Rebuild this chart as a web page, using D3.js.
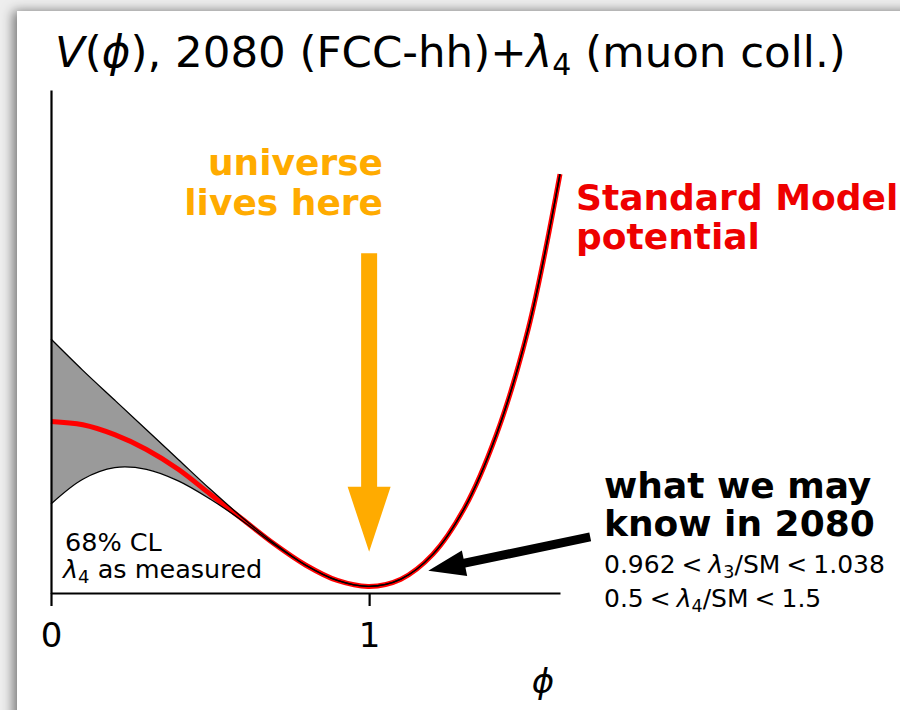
<!DOCTYPE html>
<html>
<head>
<meta charset="utf-8">
<script src="https://cdn.jsdelivr.net/npm/d3@7"></script>
<style>
  body { margin: 0; background: #ffffff; }
  svg { display: block; font-family: "DejaVu Sans", sans-serif; }
</style>
</head>
<body>
<svg id="chart" width="900" height="710"></svg>
<script>
// Field value phi (in units of the vev)
const phi  = [0.0, 0.1, 0.2, 0.3, 0.4, 0.5, 0.6, 0.7, 0.8, 0.9, 1.0, 1.1, 1.2, 1.3, 1.4, 1.5, 1.6];
// Standard Model potential V(phi), normalised so that V(0) = 1 and V(1) = 0
const vSM  = [1.00, 0.98, 0.92, 0.83, 0.71, 0.56, 0.41, 0.26, 0.13, 0.036, 0.0, 0.044, 0.194, 0.476, 0.92, 1.56, 2.50];
// 68% CL envelope with lambda_4 as measured
const vLow  = [0.50, 0.65, 0.72, 0.71, 0.64, 0.53, 0.40, 0.256, 0.129, 0.036, 0.0, 0.044, 0.194, 0.476, 0.92, 1.56, 2.50];
const vHigh = [1.50, 1.31, 1.13, 0.95, 0.77, 0.59, 0.42, 0.264, 0.130, 0.036, 0.0, 0.044, 0.194, 0.476, 0.92, 1.56, 2.50];
// Axis ticks
const xTicks = [0, 1];
const xTickLabels = ["0", "1"];

const svg = d3.select("#chart");

// Slide card with a soft shadow
const defs = svg.append("defs");
const f = defs.append("filter").attr("id", "shadow")
  .attr("x", "-10%").attr("y", "-10%").attr("width", "130%").attr("height", "130%");
f.append("feDropShadow").attr("dx", -4).attr("dy", 0).attr("stdDeviation", 6)
  .attr("flood-color", "#000").attr("flood-opacity", 0.5);
svg.append("rect").attr("width", 900).attr("height", 710).attr("fill", "#eeeeee");
svg.append("rect").attr("x", 17).attr("y", 11).attr("width", 920).attr("height", 740)
  .attr("fill", "#ffffff").attr("filter", "url(#shadow)");

const x = d3.scaleLinear().domain([0, 1.6]).range([51, 560]);
const y = d3.scaleLinear().domain([-0.04, 3.01]).range([593, 90]);

const rows = phi.map((p, i) => ({ p, sm: vSM[i], lo: vLow[i], hi: vHigh[i] }));
const curve = d3.curveCatmullRom.alpha(0.5);

// Uncertainty band
svg.append("path").datum(rows)
  .attr("d", d3.area().x(d => x(d.p)).y0(d => y(d.lo)).y1(d => y(d.hi)).curve(curve))
  .attr("fill", "#9a9a9a").attr("stroke", "none");

// SM potential
svg.append("path").datum(rows)
  .attr("d", d3.line().x(d => x(d.p)).y(d => y(d.sm)).curve(curve))
  .attr("fill", "none").attr("stroke", "#ff0000").attr("stroke-width", 5);

// Band edges
["lo", "hi"].forEach(k => {
  svg.append("path").datum(rows)
    .attr("d", d3.line().x(d => x(d.p)).y(d => y(d[k])).curve(curve))
    .attr("fill", "none").attr("stroke", "#000").attr("stroke-width", 1.3);
});

// Axes (left and bottom spines only)
const xAxis = svg.append("g").attr("transform", `translate(0,${y(-0.04)})`)
  .call(d3.axisBottom(x).tickValues(xTicks).tickFormat((d, i) => xTickLabels[i])
    .tickSize(13).tickSizeOuter(0).tickPadding(0));
xAxis.select(".domain").attr("stroke", "#000").attr("stroke-width", 2.2);
xAxis.selectAll(".tick line").attr("stroke", "#000").attr("stroke-width", 2.2);
xAxis.selectAll(".tick text").attr("font-family", "DejaVu Sans").attr("font-size", 34)
  .attr("fill", "#000").attr("y", 54).attr("dy", 0);

const yAxis = svg.append("g").attr("transform", `translate(${x(0)},0)`)
  .call(d3.axisLeft(y).tickValues([]).tickSizeOuter(0));
yAxis.select(".domain").attr("stroke", "#000").attr("stroke-width", 2.2);

// Axis label
svg.append("text").attr("x", 543).attr("y", 693).attr("text-anchor", "middle")
  .attr("font-size", 34).attr("font-style", "italic").text("\u03D5");

// Title
const title = svg.append("text").attr("x", 55).attr("y", 67).attr("font-size", 43.5).attr("fill", "#000");
title.append("tspan").attr("font-style", "italic").text("V");
title.append("tspan").text("(");
title.append("tspan").attr("font-style", "italic").text("\u03D5");
title.append("tspan").text("), 2080 (FCC-hh)+");
title.append("tspan").attr("font-style", "italic").text("\u03BB");
title.append("tspan").attr("font-size", 30).attr("dy", 8).text("4");
title.append("tspan").attr("dy", -8).text(" (muon coll.)");

// Arrow helper: filled arrow polygon from (x1,y1) to tip (x2,y2)
function arrowPath(x1, y1, x2, y2, w, hw, hl) {
  const dx = x2 - x1, dy = y2 - y1, L = Math.hypot(dx, dy);
  const ux = dx / L, uy = dy / L, nx = -uy, ny = ux;
  const bx = x2 - ux * hl, by = y2 - uy * hl;
  const p = [
    [x1 + nx * w / 2, y1 + ny * w / 2],
    [bx + nx * w / 2, by + ny * w / 2],
    [bx + nx * hw / 2, by + ny * hw / 2],
    [x2, y2],
    [bx - nx * hw / 2, by - ny * hw / 2],
    [bx - nx * w / 2, by - ny * w / 2],
    [x1 - nx * w / 2, y1 - ny * w / 2]
  ];
  return "M" + p.map(q => q.join(",")).join("L") + "Z";
}

// "universe lives here" arrow, in data coordinates
const universeArrow = { from: [1.0, 2.02], to: [1.0, 0.21] };
svg.append("path")
  .attr("d", arrowPath(x(universeArrow.from[0]), y(universeArrow.from[1]),
                       x(universeArrow.to[0]), y(universeArrow.to[1]), 16, 43, 65))
  .attr("fill", "#ffab00");

// "what we may know" arrow, in data coordinates
const knowArrow = { from: [1.695, 0.30], to: [1.186, 0.095] };
svg.append("path")
  .attr("d", arrowPath(x(knowArrow.from[0]), y(knowArrow.from[1]),
                       x(knowArrow.to[0]), y(knowArrow.to[1]), 9, 26, 37))
  .attr("fill", "#000");

// Annotations
const orange = svg.append("text").attr("font-size", 36).attr("font-weight", "bold")
  .attr("fill", "#ffab00").attr("text-anchor", "end");
orange.append("tspan").attr("x", 383).attr("y", 175).text("universe");
orange.append("tspan").attr("x", 383).attr("y", 215).text("lives here");

const red = svg.append("text").attr("font-size", 36).attr("font-weight", "bold").attr("fill", "#ee0000");
red.append("tspan").attr("x", 576).attr("y", 210).text("Standard Model");
red.append("tspan").attr("x", 576).attr("y", 249).text("potential");

const know = svg.append("text").attr("font-size", 36).attr("font-weight", "bold").attr("fill", "#000");
know.append("tspan").attr("x", 604).attr("y", 498).text("what we may");
know.append("tspan").attr("x", 604).attr("y", 536).text("know in 2080");

function rangeLine(yy, lo, k, hi) {
  const t = svg.append("text").attr("x", 604).attr("y", yy).attr("font-size", 25).attr("fill", "#000");
  t.append("tspan").text(lo);
  t.append("tspan").attr("dx", 6).text("<");
  t.append("tspan").attr("dx", 6).attr("font-style", "italic").text("\u03BB");
  t.append("tspan").attr("font-size", 17.5).attr("dy", 5).text(k);
  t.append("tspan").attr("dy", -5).text("/SM");
  t.append("tspan").attr("dx", 6).text("<");
  t.append("tspan").attr("dx", 6).text(hi);
}
rangeLine(573, "0.962", "3", "1.038");
rangeLine(607, "0.5", "4", "1.5");

const cl = svg.append("text").attr("font-size", 25.5).attr("fill", "#000");
cl.append("tspan").attr("x", 65).attr("y", 551).text("68% CL");
const cl2 = svg.append("text").attr("x", 63).attr("y", 578).attr("font-size", 25.5).attr("fill", "#000");
cl2.append("tspan").attr("font-style", "italic").text("\u03BB");
cl2.append("tspan").attr("font-size", 18).attr("dy", 5).text("4");
cl2.append("tspan").attr("dy", -5).text(" as measured");
</script>
</body>
</html>
